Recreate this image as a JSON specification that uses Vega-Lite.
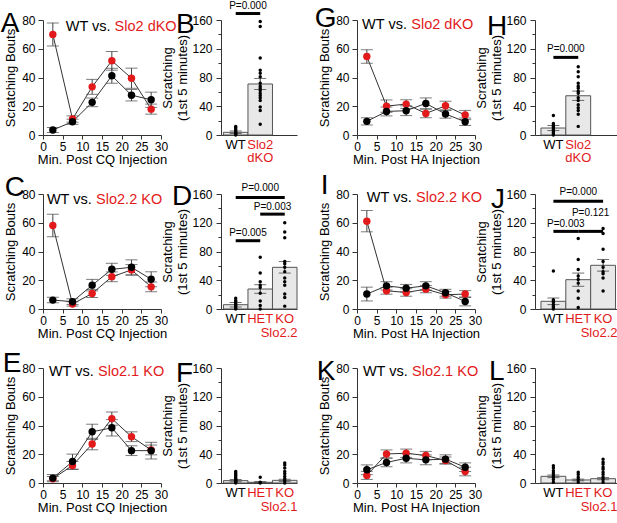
{
  "$schema": "https://vega.github.io/schema/vega-lite/v6.json",
  "padding": {"left": 0, "top": 0, "right": 0, "bottom": 0},
  "config": {
    "font": "Liberation Sans",
    "view": {"stroke": null},
    "axis": {"grid": false, "domainColor": "#333", "tickColor": "#333", "labelColor": "black", "titleColor": "black", "labelFontSize": 12, "titleFontSize": 13, "titleFontWeight": "normal", "labelFont": "Liberation Sans", "titleFont": "Liberation Sans", "labelOverlap": false, "labelFlush": false},
    "axisX": {"tickSize": 4, "labelPadding": 2, "titlePadding": 1},
    "title": {"fontSize": 28, "fontWeight": "normal", "anchor": "start", "frame": "bounds", "offset": 0, "color": "black", "font": "Liberation Sans"},
    "text": {"fontSize": 14.5}
  },
  "datasets": {
    "lines": [
      {"panel": "A", "geno": "KO", "t": 2.5, "mean": 70, "err": 8},
      {"panel": "A", "geno": "KO", "t": 7.5, "mean": 11.1, "err": 2.2},
      {"panel": "A", "geno": "KO", "t": 12.5, "mean": 33.5, "err": 5.2},
      {"panel": "A", "geno": "KO", "t": 17.5, "mean": 51.6, "err": 6.5},
      {"panel": "A", "geno": "KO", "t": 22.5, "mean": 39.5, "err": 7},
      {"panel": "A", "geno": "KO", "t": 27.5, "mean": 18, "err": 3.5},
      {"panel": "A", "geno": "WT", "t": 2.5, "mean": 3.5, "err": 1.8},
      {"panel": "A", "geno": "WT", "t": 7.5, "mean": 9.2, "err": 1.8},
      {"panel": "A", "geno": "WT", "t": 12.5, "mean": 22.7, "err": 3},
      {"panel": "A", "geno": "WT", "t": 17.5, "mean": 41.2, "err": 5.2},
      {"panel": "A", "geno": "WT", "t": 22.5, "mean": 27.7, "err": 4},
      {"panel": "A", "geno": "WT", "t": 27.5, "mean": 24.5, "err": 5.3},
      {"panel": "G", "geno": "KO", "t": 2.5, "mean": 54.6, "err": 4.7},
      {"panel": "G", "geno": "KO", "t": 7.5, "mean": 20.1, "err": 4.3},
      {"panel": "G", "geno": "KO", "t": 12.5, "mean": 21.5, "err": 3},
      {"panel": "G", "geno": "KO", "t": 17.5, "mean": 15, "err": 3},
      {"panel": "G", "geno": "KO", "t": 22.5, "mean": 20.3, "err": 3.2},
      {"panel": "G", "geno": "KO", "t": 27.5, "mean": 13.9, "err": 3.2},
      {"panel": "G", "geno": "WT", "t": 2.5, "mean": 9.5, "err": 2.5},
      {"panel": "G", "geno": "WT", "t": 7.5, "mean": 16.4, "err": 3.1},
      {"panel": "G", "geno": "WT", "t": 12.5, "mean": 16.9, "err": 3.4},
      {"panel": "G", "geno": "WT", "t": 17.5, "mean": 22, "err": 3.8},
      {"panel": "G", "geno": "WT", "t": 22.5, "mean": 14.6, "err": 2.9},
      {"panel": "G", "geno": "WT", "t": 27.5, "mean": 9.2, "err": 2.6},
      {"panel": "C", "geno": "KO", "t": 2.5, "mean": 58.1, "err": 7.8},
      {"panel": "C", "geno": "KO", "t": 7.5, "mean": 3.5, "err": 1.5},
      {"panel": "C", "geno": "KO", "t": 12.5, "mean": 10.8, "err": 2.8},
      {"panel": "C", "geno": "KO", "t": 17.5, "mean": 22.4, "err": 3.4},
      {"panel": "C", "geno": "KO", "t": 22.5, "mean": 27.2, "err": 3.7},
      {"panel": "C", "geno": "KO", "t": 27.5, "mean": 15.4, "err": 3.4},
      {"panel": "C", "geno": "WT", "t": 2.5, "mean": 6.2, "err": 1.9},
      {"panel": "C", "geno": "WT", "t": 7.5, "mean": 5.1, "err": 2},
      {"panel": "C", "geno": "WT", "t": 12.5, "mean": 16.6, "err": 4},
      {"panel": "C", "geno": "WT", "t": 17.5, "mean": 27.6, "err": 4.2},
      {"panel": "C", "geno": "WT", "t": 22.5, "mean": 29, "err": 5.2},
      {"panel": "C", "geno": "WT", "t": 27.5, "mean": 20.7, "err": 5.2},
      {"panel": "I", "geno": "KO", "t": 2.5, "mean": 61.1, "err": 7.4},
      {"panel": "I", "geno": "KO", "t": 7.5, "mean": 12.7, "err": 2.4},
      {"panel": "I", "geno": "KO", "t": 12.5, "mean": 11.5, "err": 2.6},
      {"panel": "I", "geno": "KO", "t": 17.5, "mean": 13.8, "err": 2.5},
      {"panel": "I", "geno": "KO", "t": 22.5, "mean": 9.9, "err": 2.3},
      {"panel": "I", "geno": "KO", "t": 27.5, "mean": 10.4, "err": 2.4},
      {"panel": "I", "geno": "WT", "t": 2.5, "mean": 10.4, "err": 4.8},
      {"panel": "I", "geno": "WT", "t": 7.5, "mean": 16.1, "err": 2.9},
      {"panel": "I", "geno": "WT", "t": 12.5, "mean": 14.5, "err": 2.6},
      {"panel": "I", "geno": "WT", "t": 17.5, "mean": 16.1, "err": 2.9},
      {"panel": "I", "geno": "WT", "t": 22.5, "mean": 11.3, "err": 2.4},
      {"panel": "I", "geno": "WT", "t": 27.5, "mean": 5.3, "err": 3.1},
      {"panel": "E", "geno": "KO", "t": 2.5, "mean": 3, "err": 1.5},
      {"panel": "E", "geno": "KO", "t": 7.5, "mean": 12.2, "err": 2.8},
      {"panel": "E", "geno": "KO", "t": 12.5, "mean": 27.1, "err": 4},
      {"panel": "E", "geno": "KO", "t": 17.5, "mean": 44.8, "err": 4.6},
      {"panel": "E", "geno": "KO", "t": 22.5, "mean": 32.2, "err": 3.4},
      {"panel": "E", "geno": "KO", "t": 27.5, "mean": 23, "err": 3.4},
      {"panel": "E", "geno": "WT", "t": 2.5, "mean": 3.4, "err": 2.5},
      {"panel": "E", "geno": "WT", "t": 7.5, "mean": 14.9, "err": 5.2},
      {"panel": "E", "geno": "WT", "t": 12.5, "mean": 35.6, "err": 5.3},
      {"panel": "E", "geno": "WT", "t": 17.5, "mean": 38.4, "err": 5.7},
      {"panel": "E", "geno": "WT", "t": 22.5, "mean": 22.5, "err": 3.4},
      {"panel": "E", "geno": "WT", "t": 27.5, "mean": 22.5, "err": 5.8},
      {"panel": "K", "geno": "KO", "t": 2.5, "mean": 5.3, "err": 2.8},
      {"panel": "K", "geno": "KO", "t": 7.5, "mean": 20.2, "err": 2.8},
      {"panel": "K", "geno": "KO", "t": 12.5, "mean": 20.7, "err": 2.9},
      {"panel": "K", "geno": "KO", "t": 17.5, "mean": 19.1, "err": 2.9},
      {"panel": "K", "geno": "KO", "t": 22.5, "mean": 15.6, "err": 2.5},
      {"panel": "K", "geno": "KO", "t": 27.5, "mean": 8, "err": 3},
      {"panel": "K", "geno": "WT", "t": 2.5, "mean": 9.2, "err": 3.4},
      {"panel": "K", "geno": "WT", "t": 7.5, "mean": 14.3, "err": 3},
      {"panel": "K", "geno": "WT", "t": 12.5, "mean": 17.2, "err": 3.2},
      {"panel": "K", "geno": "WT", "t": 17.5, "mean": 16.1, "err": 3.4},
      {"panel": "K", "geno": "WT", "t": 22.5, "mean": 16.6, "err": 3},
      {"panel": "K", "geno": "WT", "t": 27.5, "mean": 11, "err": 3}
    ],
    "labels": [
      {"panel": "A", "a": "WT vs.", "b": "Slo2 dKO"},
      {"panel": "G", "a": "WT vs.", "b": "Slo2 dKO"},
      {"panel": "C", "a": "WT vs.", "b": "Slo2.2 KO"},
      {"panel": "I", "a": "WT vs.", "b": "Slo2.2 KO"},
      {"panel": "E", "a": "WT vs.", "b": "Slo2.1 KO"},
      {"panel": "K", "a": "WT vs.", "b": "Slo2.1 KO"}
    ],
    "bars": [
      {"panel": "B", "grp": "WT", "mean": 3.7, "err": 1.7},
      {"panel": "B", "grp": "Slo2 dKO", "mean": 71, "err": 7.7},
      {"panel": "H", "grp": "WT", "mean": 9.7, "err": 3.5},
      {"panel": "H", "grp": "Slo2 dKO", "mean": 54.6, "err": 6.5},
      {"panel": "D", "grp": "WT", "mean": 6, "err": 3.2},
      {"panel": "D", "grp": "HET", "mean": 27.8, "err": 6},
      {"panel": "D", "grp": "KO", "mean": 58, "err": 8},
      {"panel": "J", "grp": "WT", "mean": 10.7, "err": 4.6},
      {"panel": "J", "grp": "HET", "mean": 40.8, "err": 9.2},
      {"panel": "J", "grp": "KO", "mean": 60.8, "err": 8.1},
      {"panel": "F", "grp": "WT", "mean": 3.3, "err": 1.4},
      {"panel": "F", "grp": "HET", "mean": 1, "err": 1},
      {"panel": "F", "grp": "KO", "mean": 3.7, "err": 1.5},
      {"panel": "L", "grp": "WT", "mean": 9.3, "err": 1.8},
      {"panel": "L", "grp": "HET", "mean": 4.2, "err": 1.2},
      {"panel": "L", "grp": "KO", "mean": 6, "err": 1.5}
    ],
    "pts": [
      {"panel": "B", "grp": "WT", "v": 12}, {"panel": "B", "grp": "WT", "v": 10}, {"panel": "B", "grp": "WT", "v": 8}, {"panel": "B", "grp": "WT", "v": 6}, {"panel": "B", "grp": "WT", "v": 4}, {"panel": "B", "grp": "WT", "v": 3}, {"panel": "B", "grp": "WT", "v": 2}, {"panel": "B", "grp": "WT", "v": 1}, {"panel": "B", "grp": "WT", "v": 0},
      {"panel": "B", "grp": "Slo2 dKO", "v": 158}, {"panel": "B", "grp": "Slo2 dKO", "v": 151}, {"panel": "B", "grp": "Slo2 dKO", "v": 107}, {"panel": "B", "grp": "Slo2 dKO", "v": 90}, {"panel": "B", "grp": "Slo2 dKO", "v": 86}, {"panel": "B", "grp": "Slo2 dKO", "v": 81}, {"panel": "B", "grp": "Slo2 dKO", "v": 72}, {"panel": "B", "grp": "Slo2 dKO", "v": 68}, {"panel": "B", "grp": "Slo2 dKO", "v": 65}, {"panel": "B", "grp": "Slo2 dKO", "v": 62}, {"panel": "B", "grp": "Slo2 dKO", "v": 58}, {"panel": "B", "grp": "Slo2 dKO", "v": 55}, {"panel": "B", "grp": "Slo2 dKO", "v": 52}, {"panel": "B", "grp": "Slo2 dKO", "v": 48}, {"panel": "B", "grp": "Slo2 dKO", "v": 39}, {"panel": "B", "grp": "Slo2 dKO", "v": 34}, {"panel": "B", "grp": "Slo2 dKO", "v": 15},
      {"panel": "H", "grp": "WT", "v": 27}, {"panel": "H", "grp": "WT", "v": 16}, {"panel": "H", "grp": "WT", "v": 14}, {"panel": "H", "grp": "WT", "v": 12}, {"panel": "H", "grp": "WT", "v": 10}, {"panel": "H", "grp": "WT", "v": 8}, {"panel": "H", "grp": "WT", "v": 6}, {"panel": "H", "grp": "WT", "v": 4}, {"panel": "H", "grp": "WT", "v": 2}, {"panel": "H", "grp": "WT", "v": 0},
      {"panel": "H", "grp": "Slo2 dKO", "v": 95}, {"panel": "H", "grp": "Slo2 dKO", "v": 88}, {"panel": "H", "grp": "Slo2 dKO", "v": 81}, {"panel": "H", "grp": "Slo2 dKO", "v": 72}, {"panel": "H", "grp": "Slo2 dKO", "v": 68}, {"panel": "H", "grp": "Slo2 dKO", "v": 65}, {"panel": "H", "grp": "Slo2 dKO", "v": 61}, {"panel": "H", "grp": "Slo2 dKO", "v": 58}, {"panel": "H", "grp": "Slo2 dKO", "v": 52}, {"panel": "H", "grp": "Slo2 dKO", "v": 48}, {"panel": "H", "grp": "Slo2 dKO", "v": 42}, {"panel": "H", "grp": "Slo2 dKO", "v": 38}, {"panel": "H", "grp": "Slo2 dKO", "v": 34}, {"panel": "H", "grp": "Slo2 dKO", "v": 29}, {"panel": "H", "grp": "Slo2 dKO", "v": 12},
      {"panel": "D", "grp": "WT", "v": 15}, {"panel": "D", "grp": "WT", "v": 12}, {"panel": "D", "grp": "WT", "v": 10}, {"panel": "D", "grp": "WT", "v": 8}, {"panel": "D", "grp": "WT", "v": 6}, {"panel": "D", "grp": "WT", "v": 5}, {"panel": "D", "grp": "WT", "v": 3}, {"panel": "D", "grp": "WT", "v": 1}, {"panel": "D", "grp": "WT", "v": 0},
      {"panel": "D", "grp": "HET", "v": 72}, {"panel": "D", "grp": "HET", "v": 50}, {"panel": "D", "grp": "HET", "v": 38}, {"panel": "D", "grp": "HET", "v": 33}, {"panel": "D", "grp": "HET", "v": 30}, {"panel": "D", "grp": "HET", "v": 22}, {"panel": "D", "grp": "HET", "v": 11}, {"panel": "D", "grp": "HET", "v": 5}, {"panel": "D", "grp": "HET", "v": 0},
      {"panel": "D", "grp": "KO", "v": 120}, {"panel": "D", "grp": "KO", "v": 107}, {"panel": "D", "grp": "KO", "v": 99}, {"panel": "D", "grp": "KO", "v": 66}, {"panel": "D", "grp": "KO", "v": 63}, {"panel": "D", "grp": "KO", "v": 58}, {"panel": "D", "grp": "KO", "v": 52}, {"panel": "D", "grp": "KO", "v": 43}, {"panel": "D", "grp": "KO", "v": 38}, {"panel": "D", "grp": "KO", "v": 33}, {"panel": "D", "grp": "KO", "v": 21}, {"panel": "D", "grp": "KO", "v": 16}, {"panel": "D", "grp": "KO", "v": 4},
      {"panel": "J", "grp": "WT", "v": 53}, {"panel": "J", "grp": "WT", "v": 13}, {"panel": "J", "grp": "WT", "v": 11}, {"panel": "J", "grp": "WT", "v": 9}, {"panel": "J", "grp": "WT", "v": 6}, {"panel": "J", "grp": "WT", "v": 4}, {"panel": "J", "grp": "WT", "v": 2}, {"panel": "J", "grp": "WT", "v": 0},
      {"panel": "J", "grp": "HET", "v": 98}, {"panel": "J", "grp": "HET", "v": 69}, {"panel": "J", "grp": "HET", "v": 55}, {"panel": "J", "grp": "HET", "v": 46}, {"panel": "J", "grp": "HET", "v": 41}, {"panel": "J", "grp": "HET", "v": 36}, {"panel": "J", "grp": "HET", "v": 25}, {"panel": "J", "grp": "HET", "v": 15}, {"panel": "J", "grp": "HET", "v": 2},
      {"panel": "J", "grp": "KO", "v": 112}, {"panel": "J", "grp": "KO", "v": 105}, {"panel": "J", "grp": "KO", "v": 83}, {"panel": "J", "grp": "KO", "v": 66}, {"panel": "J", "grp": "KO", "v": 58}, {"panel": "J", "grp": "KO", "v": 52}, {"panel": "J", "grp": "KO", "v": 49}, {"panel": "J", "grp": "KO", "v": 43}, {"panel": "J", "grp": "KO", "v": 25},
      {"panel": "F", "grp": "WT", "v": 16}, {"panel": "F", "grp": "WT", "v": 14}, {"panel": "F", "grp": "WT", "v": 12}, {"panel": "F", "grp": "WT", "v": 10}, {"panel": "F", "grp": "WT", "v": 8}, {"panel": "F", "grp": "WT", "v": 6}, {"panel": "F", "grp": "WT", "v": 5}, {"panel": "F", "grp": "WT", "v": 4}, {"panel": "F", "grp": "WT", "v": 3}, {"panel": "F", "grp": "WT", "v": 2}, {"panel": "F", "grp": "WT", "v": 1}, {"panel": "F", "grp": "WT", "v": 0},
      {"panel": "F", "grp": "HET", "v": 8}, {"panel": "F", "grp": "HET", "v": 1}, {"panel": "F", "grp": "HET", "v": 0},
      {"panel": "F", "grp": "KO", "v": 28}, {"panel": "F", "grp": "KO", "v": 25}, {"panel": "F", "grp": "KO", "v": 21}, {"panel": "F", "grp": "KO", "v": 16}, {"panel": "F", "grp": "KO", "v": 13}, {"panel": "F", "grp": "KO", "v": 9}, {"panel": "F", "grp": "KO", "v": 6}, {"panel": "F", "grp": "KO", "v": 3}, {"panel": "F", "grp": "KO", "v": 0},
      {"panel": "L", "grp": "WT", "v": 24}, {"panel": "L", "grp": "WT", "v": 21}, {"panel": "L", "grp": "WT", "v": 17}, {"panel": "L", "grp": "WT", "v": 14}, {"panel": "L", "grp": "WT", "v": 11}, {"panel": "L", "grp": "WT", "v": 8}, {"panel": "L", "grp": "WT", "v": 5}, {"panel": "L", "grp": "WT", "v": 1},
      {"panel": "L", "grp": "HET", "v": 15}, {"panel": "L", "grp": "HET", "v": 12}, {"panel": "L", "grp": "HET", "v": 8}, {"panel": "L", "grp": "HET", "v": 5}, {"panel": "L", "grp": "HET", "v": 1},
      {"panel": "L", "grp": "KO", "v": 33}, {"panel": "L", "grp": "KO", "v": 29}, {"panel": "L", "grp": "KO", "v": 26}, {"panel": "L", "grp": "KO", "v": 22}, {"panel": "L", "grp": "KO", "v": 19}, {"panel": "L", "grp": "KO", "v": 15}, {"panel": "L", "grp": "KO", "v": 12}, {"panel": "L", "grp": "KO", "v": 8}, {"panel": "L", "grp": "KO", "v": 5}, {"panel": "L", "grp": "KO", "v": 1}
    ],
    "pvals": [
      {"panel": "B", "g1": "WT", "g2": "Slo2 dKO", "span": 1, "level": 169, "tl": 180, "p": "P=0.000"},
      {"panel": "H", "g1": "WT", "g2": "Slo2 dKO", "span": 1, "level": 108, "tl": 119, "p": "P=0.000"},
      {"panel": "D", "g1": "WT", "g2": "KO", "span": 2, "level": 155, "tl": 168, "p": "P=0.000"},
      {"panel": "D", "g1": "HET", "g2": "KO", "span": 1, "level": 132, "tl": 142, "p": "P=0.003"},
      {"panel": "D", "g1": "WT", "g2": "HET", "span": 1, "level": 95, "tl": 106, "p": "P=0.005"},
      {"panel": "J", "g1": "WT", "g2": "KO", "span": 2, "level": 150, "tl": 163, "p": "P=0.000"},
      {"panel": "J", "g1": "WT", "g2": "HET", "span": 1, "level": 108, "tl": 118, "p": "P=0.003"},
      {"panel": "J", "g1": "HET", "g2": "KO", "span": 1, "level": 108, "tl": 133, "p": "P=0.121"}
    ]
  },
  "columns": 4,
  "bounds": "flush",
  "spacing": {"row": 59, "column": 60},
  "concat": [
    {"width": 118, "height": 115, "title": {"text": "A", "dx": -4, "offset": -24},
     "layer": [
      {"data": {"name": "lines"}, "transform": [{"filter": "datum.panel == 'A'"}],
       "encoding": {"x": {"field": "t", "type": "quantitative", "title": "Min. Post CQ Injection", "scale": {"domain": [0, 30], "nice": false}, "axis": {"values": [0, 5, 10, 15, 20, 25, 30]}},
                    "y": {"field": "mean", "type": "quantitative", "title": "Scratching Bouts", "scale": {"domain": [0, 80], "nice": false}, "axis": {"values": [0, 20, 40, 60, 80], "tickSize": 5, "labelPadding": 3, "titlePadding": 4}}},
       "layer": [
        {"mark": {"type": "line", "color": "#333", "strokeWidth": 1}, "encoding": {"detail": {"field": "geno"}}},
        {"mark": {"type": "errorbar", "ticks": true, "size": 12, "color": "#444"}, "encoding": {"yError": {"field": "err"}}},
        {"mark": {"type": "circle", "size": 55, "opacity": 1}, "encoding": {"color": {"field": "geno", "type": "nominal", "scale": {"domain": ["WT", "KO"], "range": ["black", "#e31a1c"]}, "legend": null}}}
       ]},
      {"data": {"name": "labels"}, "transform": [{"filter": "datum.panel == 'A'"}],
       "mark": {"type": "text", "align": "left", "baseline": "middle", "color": "black"},
       "encoding": {"x": {"datum": 5.8, "type": "quantitative", "title": "Min. Post CQ Injection", "axis": {"values": [0, 5, 10, 15, 20, 25, 30]}}, "y": {"datum": 75, "type": "quantitative", "title": "Scratching Bouts", "axis": {"values": [0, 20, 40, 60, 80], "tickSize": 5, "labelPadding": 3, "titlePadding": 4}}, "text": {"field": "a"}}},
      {"data": {"name": "labels"}, "transform": [{"filter": "datum.panel == 'A'"}],
       "mark": {"type": "text", "align": "left", "baseline": "middle", "color": "#e31a1c"},
       "encoding": {"x": {"datum": 18.2, "type": "quantitative", "title": "Min. Post CQ Injection", "axis": {"values": [0, 5, 10, 15, 20, 25, 30]}}, "y": {"datum": 75, "type": "quantitative", "title": "Scratching Bouts", "axis": {"values": [0, 20, 40, 60, 80], "tickSize": 5, "labelPadding": 3, "titlePadding": 4}}, "text": {"field": "b"}}}
     ]},
    {"width": 76, "height": 115, "title": {"text": "B", "dx": 14, "offset": -38},
     "data": {"name": "bars"}, "transform": [{"filter": "datum.panel == 'B'"}],
     "encoding": {"x": {"field": "grp", "type": "nominal", "title": null, "scale": {"domain": ["WT", "Slo2 dKO", "_"], "paddingInner": 0, "paddingOuter": 0.05, "align": 1}, "axis": {"ticks": false, "labelAngle": 0, "labelFontSize": 13, "labelLineHeight": 13, "labelPadding": 3, "labelExpr": "datum.value == '_' ? '' : datum.value == 'Slo2 dKO' ? ['Slo2', 'dKO'] : datum.value", "labelColor": {"condition": {"test": "datum.value == 'WT'", "value": "black"}, "value": "#e31a1c"}}},
                  "y": {"field": "mean", "type": "quantitative", "title": ["Scratching", "(1st 5 minutes)"], "scale": {"domain": [0, 160], "nice": false}, "axis": {"values": [0, 20, 40, 60, 80, 100, 120, 140, 160], "labelExpr": "datum.value % 40 == 0 ? datum.label : ''", "tickSize": {"condition": {"test": "datum.value % 40 == 0", "value": 5}, "value": 3}, "labelPadding": 4, "titlePadding": 2}}},
     "layer": [
      {"mark": {"type": "bar", "fill": "#e8e8e8", "stroke": "#555", "strokeWidth": 1}},
      {"mark": {"type": "errorbar", "ticks": true, "size": 12, "color": "#333"}, "encoding": {"yError": {"field": "err"}}},
      {"data": {"name": "pts"}, "transform": [{"filter": "datum.panel == 'B'"}],
       "mark": {"type": "circle", "size": 12, "color": "black", "opacity": 1},
       "encoding": {"y": {"field": "v", "type": "quantitative"}}},
      {"data": {"name": "pvals"}, "transform": [{"filter": "datum.panel == 'B'"}],
       "mark": {"type": "rule", "strokeWidth": 3, "color": "black"},
       "encoding": {"x": {"field": "g1", "type": "nominal"}, "x2": {"field": "g2"}, "y": {"field": "level", "type": "quantitative"}}},
      {"data": {"name": "pvals"}, "transform": [{"filter": "datum.panel == 'B'"}],
       "mark": {"type": "text", "fontSize": 10, "baseline": "middle"},
       "encoding": {"x": {"field": "g1", "type": "nominal", "bandPosition": 1}, "y": {"field": "tl", "type": "quantitative"}, "text": {"field": "p"}}}
     ]},
    {"width": 118, "height": 115, "title": {"text": "G", "dx": -4, "offset": -19},
     "layer": [
      {"data": {"name": "lines"}, "transform": [{"filter": "datum.panel == 'G'"}],
       "encoding": {"x": {"field": "t", "type": "quantitative", "title": "Min. Post HA Injection", "scale": {"domain": [0, 30], "nice": false}, "axis": {"values": [0, 5, 10, 15, 20, 25, 30]}},
                    "y": {"field": "mean", "type": "quantitative", "title": "Scratching Bouts", "scale": {"domain": [0, 80], "nice": false}, "axis": {"values": [0, 20, 40, 60, 80], "tickSize": 5, "labelPadding": 3, "titlePadding": 4}}},
       "layer": [
        {"mark": {"type": "line", "color": "#333", "strokeWidth": 1}, "encoding": {"detail": {"field": "geno"}}},
        {"mark": {"type": "errorbar", "ticks": true, "size": 12, "color": "#444"}, "encoding": {"yError": {"field": "err"}}},
        {"mark": {"type": "circle", "size": 55, "opacity": 1}, "encoding": {"color": {"field": "geno", "type": "nominal", "scale": {"domain": ["WT", "KO"], "range": ["black", "#e31a1c"]}, "legend": null}}}
       ]},
      {"data": {"name": "labels"}, "transform": [{"filter": "datum.panel == 'G'"}],
       "mark": {"type": "text", "align": "left", "baseline": "middle", "color": "black"},
       "encoding": {"x": {"datum": 1.3, "type": "quantitative", "title": "Min. Post HA Injection", "axis": {"values": [0, 5, 10, 15, 20, 25, 30]}}, "y": {"datum": 76.5, "type": "quantitative", "title": "Scratching Bouts", "axis": {"values": [0, 20, 40, 60, 80], "tickSize": 5, "labelPadding": 3, "titlePadding": 4}}, "text": {"field": "a"}}},
      {"data": {"name": "labels"}, "transform": [{"filter": "datum.panel == 'G'"}],
       "mark": {"type": "text", "align": "left", "baseline": "middle", "color": "#e31a1c"},
       "encoding": {"x": {"datum": 13.8, "type": "quantitative", "title": "Min. Post HA Injection", "axis": {"values": [0, 5, 10, 15, 20, 25, 30]}}, "y": {"datum": 76.5, "type": "quantitative", "title": "Scratching Bouts", "axis": {"values": [0, 20, 40, 60, 80], "tickSize": 5, "labelPadding": 3, "titlePadding": 4}}, "text": {"field": "b"}}}
     ]},
    {"width": 82, "height": 115, "title": {"text": "H", "dx": 11, "offset": -27},
     "data": {"name": "bars"}, "transform": [{"filter": "datum.panel == 'H'"}],
     "encoding": {"x": {"field": "grp", "type": "nominal", "title": null, "scale": {"domain": ["WT", "Slo2 dKO", "_"], "paddingInner": 0, "paddingOuter": 0.15, "align": 0.8}, "axis": {"ticks": false, "labelAngle": 0, "labelFontSize": 13, "labelLineHeight": 13, "labelPadding": 3, "labelExpr": "datum.value == '_' ? '' : datum.value == 'Slo2 dKO' ? ['Slo2', 'dKO'] : datum.value", "labelColor": {"condition": {"test": "datum.value == 'WT'", "value": "black"}, "value": "#e31a1c"}}},
                  "y": {"field": "mean", "type": "quantitative", "title": ["Scratching", "(1st  5 minutes)"], "scale": {"domain": [0, 160], "nice": false}, "axis": {"values": [0, 20, 40, 60, 80, 100, 120, 140, 160], "labelExpr": "datum.value % 40 == 0 ? datum.label : ''", "tickSize": {"condition": {"test": "datum.value % 40 == 0", "value": 5}, "value": 3}, "labelPadding": 4, "titlePadding": 2}}},
     "layer": [
      {"mark": {"type": "bar", "fill": "#e8e8e8", "stroke": "#555", "strokeWidth": 1}},
      {"mark": {"type": "errorbar", "ticks": true, "size": 12, "color": "#333"}, "encoding": {"yError": {"field": "err"}}},
      {"data": {"name": "pts"}, "transform": [{"filter": "datum.panel == 'H'"}],
       "mark": {"type": "circle", "size": 12, "color": "black", "opacity": 1},
       "encoding": {"y": {"field": "v", "type": "quantitative"}}},
      {"data": {"name": "pvals"}, "transform": [{"filter": "datum.panel == 'H'"}],
       "mark": {"type": "rule", "strokeWidth": 3, "color": "black"},
       "encoding": {"x": {"field": "g1", "type": "nominal"}, "x2": {"field": "g2"}, "y": {"field": "level", "type": "quantitative"}}},
      {"data": {"name": "pvals"}, "transform": [{"filter": "datum.panel == 'H'"}],
       "mark": {"type": "text", "fontSize": 10, "baseline": "middle"},
       "encoding": {"x": {"field": "g1", "type": "nominal", "bandPosition": 1}, "y": {"field": "tl", "type": "quantitative"}, "text": {"field": "p"}}}
     ]},
    {"width": 118, "height": 115, "title": {"text": "C", "dx": 0, "offset": -14},
     "layer": [
      {"data": {"name": "lines"}, "transform": [{"filter": "datum.panel == 'C'"}],
       "encoding": {"x": {"field": "t", "type": "quantitative", "title": "Min. Post CQ Injection", "scale": {"domain": [0, 30], "nice": false}, "axis": {"values": [0, 5, 10, 15, 20, 25, 30]}},
                    "y": {"field": "mean", "type": "quantitative", "title": "Scratching Bouts", "scale": {"domain": [0, 80], "nice": false}, "axis": {"values": [0, 20, 40, 60, 80], "tickSize": 5, "labelPadding": 3, "titlePadding": 4}}},
       "layer": [
        {"mark": {"type": "line", "color": "#333", "strokeWidth": 1}, "encoding": {"detail": {"field": "geno"}}},
        {"mark": {"type": "errorbar", "ticks": true, "size": 12, "color": "#444"}, "encoding": {"yError": {"field": "err"}}},
        {"mark": {"type": "circle", "size": 55, "opacity": 1}, "encoding": {"color": {"field": "geno", "type": "nominal", "scale": {"domain": ["WT", "KO"], "range": ["black", "#e31a1c"]}, "legend": null}}}
       ]},
      {"data": {"name": "labels"}, "transform": [{"filter": "datum.panel == 'C'"}],
       "mark": {"type": "text", "align": "left", "baseline": "middle", "color": "black"},
       "encoding": {"x": {"datum": 1, "type": "quantitative", "title": "Min. Post CQ Injection", "axis": {"values": [0, 5, 10, 15, 20, 25, 30]}}, "y": {"datum": 75.6, "type": "quantitative", "title": "Scratching Bouts", "axis": {"values": [0, 20, 40, 60, 80], "tickSize": 5, "labelPadding": 3, "titlePadding": 4}}, "text": {"field": "a"}}},
      {"data": {"name": "labels"}, "transform": [{"filter": "datum.panel == 'C'"}],
       "mark": {"type": "text", "align": "left", "baseline": "middle", "color": "#e31a1c"},
       "encoding": {"x": {"datum": 13.5, "type": "quantitative", "title": "Min. Post CQ Injection", "axis": {"values": [0, 5, 10, 15, 20, 25, 30]}}, "y": {"datum": 75.6, "type": "quantitative", "title": "Scratching Bouts", "axis": {"values": [0, 20, 40, 60, 80], "tickSize": 5, "labelPadding": 3, "titlePadding": 4}}, "text": {"field": "b"}}}
     ]},
    {"width": 76, "height": 115, "title": {"text": "D", "dx": 10, "offset": -28},
     "data": {"name": "bars"}, "transform": [{"filter": "datum.panel == 'D'"}],
     "encoding": {"x": {"field": "grp", "type": "nominal", "title": "Slo2.2", "scale": {"domain": ["WT", "HET", "KO"], "paddingInner": 0, "paddingOuter": 0.05, "align": 1}, "axis": {"titleColor": "#e31a1c", "titleFontSize": 13, "titleAnchor": "end", "titlePadding": 1, "ticks": false, "labelAngle": 0, "labelFontSize": 13, "labelPadding": 3, "labelColor": {"condition": {"test": "datum.value == 'WT'", "value": "black"}, "value": "#e31a1c"}}},
                  "y": {"field": "mean", "type": "quantitative", "title": ["Scratching", "(1st 5 minutes)"], "scale": {"domain": [0, 160], "nice": false}, "axis": {"values": [0, 20, 40, 60, 80, 100, 120, 140, 160], "labelExpr": "datum.value % 40 == 0 ? datum.label : ''", "tickSize": {"condition": {"test": "datum.value % 40 == 0", "value": 5}, "value": 3}, "labelPadding": 4, "titlePadding": 2}}},
     "layer": [
      {"mark": {"type": "bar", "fill": "#e8e8e8", "stroke": "#555", "strokeWidth": 1}},
      {"mark": {"type": "errorbar", "ticks": true, "size": 12, "color": "#333"}, "encoding": {"yError": {"field": "err"}}},
      {"data": {"name": "pts"}, "transform": [{"filter": "datum.panel == 'D'"}],
       "mark": {"type": "circle", "size": 12, "color": "black", "opacity": 1},
       "encoding": {"y": {"field": "v", "type": "quantitative"}}},
      {"data": {"name": "pvals"}, "transform": [{"filter": "datum.panel == 'D'"}],
       "mark": {"type": "rule", "strokeWidth": 3, "color": "black"},
       "encoding": {"x": {"field": "g1", "type": "nominal"}, "x2": {"field": "g2"}, "y": {"field": "level", "type": "quantitative"}}},
      {"data": {"name": "pvals"}, "transform": [{"filter": "datum.panel == 'D' && datum.span == 1"}],
       "mark": {"type": "text", "fontSize": 10, "baseline": "middle"},
       "encoding": {"x": {"field": "g1", "type": "nominal", "bandPosition": 1}, "y": {"field": "tl", "type": "quantitative"}, "text": {"field": "p"}}},
      {"data": {"name": "pvals"}, "transform": [{"filter": "datum.panel == 'D' && datum.span == 2"}],
       "mark": {"type": "text", "fontSize": 10, "baseline": "middle"},
       "encoding": {"x": {"field": "g1", "type": "nominal", "bandPosition": 1.5}, "y": {"field": "tl", "type": "quantitative"}, "text": {"field": "p"}}}
     ]},
    {"width": 118, "height": 115, "title": {"text": "I", "dx": 2, "offset": -12},
     "layer": [
      {"data": {"name": "lines"}, "transform": [{"filter": "datum.panel == 'I'"}],
       "encoding": {"x": {"field": "t", "type": "quantitative", "title": "Min. Post HA Injection", "scale": {"domain": [0, 30], "nice": false}, "axis": {"values": [0, 5, 10, 15, 20, 25, 30]}},
                    "y": {"field": "mean", "type": "quantitative", "title": "Scratching Bouts", "scale": {"domain": [0, 80], "nice": false}, "axis": {"values": [0, 20, 40, 60, 80], "tickSize": 5, "labelPadding": 3, "titlePadding": 4}}},
       "layer": [
        {"mark": {"type": "line", "color": "#333", "strokeWidth": 1}, "encoding": {"detail": {"field": "geno"}}},
        {"mark": {"type": "errorbar", "ticks": true, "size": 12, "color": "#444"}, "encoding": {"yError": {"field": "err"}}},
        {"mark": {"type": "circle", "size": 55, "opacity": 1}, "encoding": {"color": {"field": "geno", "type": "nominal", "scale": {"domain": ["WT", "KO"], "range": ["black", "#e31a1c"]}, "legend": null}}}
       ]},
      {"data": {"name": "labels"}, "transform": [{"filter": "datum.panel == 'I'"}],
       "mark": {"type": "text", "align": "left", "baseline": "middle", "color": "black"},
       "encoding": {"x": {"datum": 2.5, "type": "quantitative", "title": "Min. Post HA Injection", "axis": {"values": [0, 5, 10, 15, 20, 25, 30]}}, "y": {"datum": 77, "type": "quantitative", "title": "Scratching Bouts", "axis": {"values": [0, 20, 40, 60, 80], "tickSize": 5, "labelPadding": 3, "titlePadding": 4}}, "text": {"field": "a"}}},
      {"data": {"name": "labels"}, "transform": [{"filter": "datum.panel == 'I'"}],
       "mark": {"type": "text", "align": "left", "baseline": "middle", "color": "#e31a1c"},
       "encoding": {"x": {"datum": 15, "type": "quantitative", "title": "Min. Post HA Injection", "axis": {"values": [0, 5, 10, 15, 20, 25, 30]}}, "y": {"datum": 77, "type": "quantitative", "title": "Scratching Bouts", "axis": {"values": [0, 20, 40, 60, 80], "tickSize": 5, "labelPadding": 3, "titlePadding": 4}}, "text": {"field": "b"}}}
     ]},
    {"width": 82, "height": 115, "title": {"text": "J", "dx": 15, "offset": -27},
     "data": {"name": "bars"}, "transform": [{"filter": "datum.panel == 'J'"}],
     "encoding": {"x": {"field": "grp", "type": "nominal", "title": "Slo2.2", "scale": {"domain": ["WT", "HET", "KO"], "paddingInner": 0, "paddingOuter": 0.15, "align": 0.8}, "axis": {"titleColor": "#e31a1c", "titleFontSize": 13, "titleAnchor": "end", "titlePadding": 1, "ticks": false, "labelAngle": 0, "labelFontSize": 13, "labelPadding": 3, "labelColor": {"condition": {"test": "datum.value == 'WT'", "value": "black"}, "value": "#e31a1c"}}},
                  "y": {"field": "mean", "type": "quantitative", "title": ["Scratching", "(1st  5 minutes)"], "scale": {"domain": [0, 160], "nice": false}, "axis": {"values": [0, 20, 40, 60, 80, 100, 120, 140, 160], "labelExpr": "datum.value % 40 == 0 ? datum.label : ''", "tickSize": {"condition": {"test": "datum.value % 40 == 0", "value": 5}, "value": 3}, "labelPadding": 4, "titlePadding": 2}}},
     "layer": [
      {"mark": {"type": "bar", "fill": "#e8e8e8", "stroke": "#555", "strokeWidth": 1}},
      {"mark": {"type": "errorbar", "ticks": true, "size": 12, "color": "#333"}, "encoding": {"yError": {"field": "err"}}},
      {"data": {"name": "pts"}, "transform": [{"filter": "datum.panel == 'J'"}],
       "mark": {"type": "circle", "size": 12, "color": "black", "opacity": 1},
       "encoding": {"y": {"field": "v", "type": "quantitative"}}},
      {"data": {"name": "pvals"}, "transform": [{"filter": "datum.panel == 'J'"}],
       "mark": {"type": "rule", "strokeWidth": 3, "color": "black"},
       "encoding": {"x": {"field": "g1", "type": "nominal"}, "x2": {"field": "g2"}, "y": {"field": "level", "type": "quantitative"}}},
      {"data": {"name": "pvals"}, "transform": [{"filter": "datum.panel == 'J' && datum.span == 1"}],
       "mark": {"type": "text", "fontSize": 10, "baseline": "middle"},
       "encoding": {"x": {"field": "g1", "type": "nominal", "bandPosition": 1}, "y": {"field": "tl", "type": "quantitative"}, "text": {"field": "p"}}},
      {"data": {"name": "pvals"}, "transform": [{"filter": "datum.panel == 'J' && datum.span == 2"}],
       "mark": {"type": "text", "fontSize": 10, "baseline": "middle"},
       "encoding": {"x": {"field": "g1", "type": "nominal", "bandPosition": 1.5}, "y": {"field": "tl", "type": "quantitative"}, "text": {"field": "p"}}}
     ]},
    {"width": 118, "height": 115, "title": {"text": "E", "dx": -2, "offset": -16},
     "layer": [
      {"data": {"name": "lines"}, "transform": [{"filter": "datum.panel == 'E'"}],
       "encoding": {"x": {"field": "t", "type": "quantitative", "title": "Min. Post CQ Injection", "scale": {"domain": [0, 30], "nice": false}, "axis": {"values": [0, 5, 10, 15, 20, 25, 30]}},
                    "y": {"field": "mean", "type": "quantitative", "title": "Scratching Bouts", "scale": {"domain": [0, 80], "nice": false}, "axis": {"values": [0, 20, 40, 60, 80], "tickSize": 5, "labelPadding": 3, "titlePadding": 4}}},
       "layer": [
        {"mark": {"type": "line", "color": "#333", "strokeWidth": 1}, "encoding": {"detail": {"field": "geno"}}},
        {"mark": {"type": "errorbar", "ticks": true, "size": 12, "color": "#444"}, "encoding": {"yError": {"field": "err"}}},
        {"mark": {"type": "circle", "size": 55, "opacity": 1}, "encoding": {"color": {"field": "geno", "type": "nominal", "scale": {"domain": ["WT", "KO"], "range": ["black", "#e31a1c"]}, "legend": null}}}
       ]},
      {"data": {"name": "labels"}, "transform": [{"filter": "datum.panel == 'E'"}],
       "mark": {"type": "text", "align": "left", "baseline": "middle", "color": "black"},
       "encoding": {"x": {"datum": 1.5, "type": "quantitative", "title": "Min. Post CQ Injection", "axis": {"values": [0, 5, 10, 15, 20, 25, 30]}}, "y": {"datum": 77.5, "type": "quantitative", "title": "Scratching Bouts", "axis": {"values": [0, 20, 40, 60, 80], "tickSize": 5, "labelPadding": 3, "titlePadding": 4}}, "text": {"field": "a"}}},
      {"data": {"name": "labels"}, "transform": [{"filter": "datum.panel == 'E'"}],
       "mark": {"type": "text", "align": "left", "baseline": "middle", "color": "#e31a1c"},
       "encoding": {"x": {"datum": 14, "type": "quantitative", "title": "Min. Post CQ Injection", "axis": {"values": [0, 5, 10, 15, 20, 25, 30]}}, "y": {"datum": 77.5, "type": "quantitative", "title": "Scratching Bouts", "axis": {"values": [0, 20, 40, 60, 80], "tickSize": 5, "labelPadding": 3, "titlePadding": 4}}, "text": {"field": "b"}}}
     ]},
    {"width": 76, "height": 115, "title": {"text": "F", "dx": 14, "offset": -26},
     "data": {"name": "bars"}, "transform": [{"filter": "datum.panel == 'F'"}],
     "encoding": {"x": {"field": "grp", "type": "nominal", "title": "Slo2.1", "scale": {"domain": ["WT", "HET", "KO"], "paddingInner": 0, "paddingOuter": 0.05, "align": 1}, "axis": {"titleColor": "#e31a1c", "titleFontSize": 13, "titleAnchor": "end", "titlePadding": 1, "ticks": false, "labelAngle": 0, "labelFontSize": 13, "labelPadding": 3, "labelColor": {"condition": {"test": "datum.value == 'WT'", "value": "black"}, "value": "#e31a1c"}}},
                  "y": {"field": "mean", "type": "quantitative", "title": ["Scratching", "(1st 5 minutes)"], "scale": {"domain": [0, 160], "nice": false}, "axis": {"values": [0, 20, 40, 60, 80, 100, 120, 140, 160], "labelExpr": "datum.value % 40 == 0 ? datum.label : ''", "tickSize": {"condition": {"test": "datum.value % 40 == 0", "value": 5}, "value": 3}, "labelPadding": 4, "titlePadding": 2}}},
     "layer": [
      {"mark": {"type": "bar", "fill": "#e8e8e8", "stroke": "#555", "strokeWidth": 1}},
      {"mark": {"type": "errorbar", "ticks": true, "size": 12, "color": "#333"}, "encoding": {"yError": {"field": "err"}}},
      {"data": {"name": "pts"}, "transform": [{"filter": "datum.panel == 'F'"}],
       "mark": {"type": "circle", "size": 12, "color": "black", "opacity": 1},
       "encoding": {"y": {"field": "v", "type": "quantitative"}}}
     ]},
    {"width": 118, "height": 115, "title": {"text": "K", "dx": -2, "offset": -24},
     "layer": [
      {"data": {"name": "lines"}, "transform": [{"filter": "datum.panel == 'K'"}],
       "encoding": {"x": {"field": "t", "type": "quantitative", "title": "Min. Post HA Injection", "scale": {"domain": [0, 30], "nice": false}, "axis": {"values": [0, 5, 10, 15, 20, 25, 30]}},
                    "y": {"field": "mean", "type": "quantitative", "title": "Scratching Bouts", "scale": {"domain": [0, 80], "nice": false}, "axis": {"values": [0, 20, 40, 60, 80], "tickSize": 5, "labelPadding": 3, "titlePadding": 4}}},
       "layer": [
        {"mark": {"type": "line", "color": "#333", "strokeWidth": 1}, "encoding": {"detail": {"field": "geno"}}},
        {"mark": {"type": "errorbar", "ticks": true, "size": 12, "color": "#444"}, "encoding": {"yError": {"field": "err"}}},
        {"mark": {"type": "circle", "size": 55, "opacity": 1}, "encoding": {"color": {"field": "geno", "type": "nominal", "scale": {"domain": ["WT", "KO"], "range": ["black", "#e31a1c"]}, "legend": null}}}
       ]},
      {"data": {"name": "labels"}, "transform": [{"filter": "datum.panel == 'K'"}],
       "mark": {"type": "text", "align": "left", "baseline": "middle", "color": "black"},
       "encoding": {"x": {"datum": 1.5, "type": "quantitative", "title": "Min. Post HA Injection", "axis": {"values": [0, 5, 10, 15, 20, 25, 30]}}, "y": {"datum": 77, "type": "quantitative", "title": "Scratching Bouts", "axis": {"values": [0, 20, 40, 60, 80], "tickSize": 5, "labelPadding": 3, "titlePadding": 4}}, "text": {"field": "a"}}},
      {"data": {"name": "labels"}, "transform": [{"filter": "datum.panel == 'K'"}],
       "mark": {"type": "text", "align": "left", "baseline": "middle", "color": "#e31a1c"},
       "encoding": {"x": {"datum": 14, "type": "quantitative", "title": "Min. Post HA Injection", "axis": {"values": [0, 5, 10, 15, 20, 25, 30]}}, "y": {"datum": 77, "type": "quantitative", "title": "Scratching Bouts", "axis": {"values": [0, 20, 40, 60, 80], "tickSize": 5, "labelPadding": 3, "titlePadding": 4}}, "text": {"field": "b"}}}
     ]},
    {"width": 82, "height": 115, "title": {"text": "L", "dx": 13, "offset": -24},
     "data": {"name": "bars"}, "transform": [{"filter": "datum.panel == 'L'"}],
     "encoding": {"x": {"field": "grp", "type": "nominal", "title": "Slo2.1", "scale": {"domain": ["WT", "HET", "KO"], "paddingInner": 0, "paddingOuter": 0.15, "align": 0.8}, "axis": {"titleColor": "#e31a1c", "titleFontSize": 13, "titleAnchor": "end", "titlePadding": 1, "ticks": false, "labelAngle": 0, "labelFontSize": 13, "labelPadding": 3, "labelColor": {"condition": {"test": "datum.value == 'WT'", "value": "black"}, "value": "#e31a1c"}}},
                  "y": {"field": "mean", "type": "quantitative", "title": ["Scratching", "(1st  5 minutes)"], "scale": {"domain": [0, 160], "nice": false}, "axis": {"values": [0, 20, 40, 60, 80, 100, 120, 140, 160], "labelExpr": "datum.value % 40 == 0 ? datum.label : ''", "tickSize": {"condition": {"test": "datum.value % 40 == 0", "value": 5}, "value": 3}, "labelPadding": 4, "titlePadding": 2}}},
     "layer": [
      {"mark": {"type": "bar", "fill": "#e8e8e8", "stroke": "#555", "strokeWidth": 1}},
      {"mark": {"type": "errorbar", "ticks": true, "size": 12, "color": "#333"}, "encoding": {"yError": {"field": "err"}}},
      {"data": {"name": "pts"}, "transform": [{"filter": "datum.panel == 'L'"}],
       "mark": {"type": "circle", "size": 12, "color": "black", "opacity": 1},
       "encoding": {"y": {"field": "v", "type": "quantitative"}}}
     ]}
  ]
}
